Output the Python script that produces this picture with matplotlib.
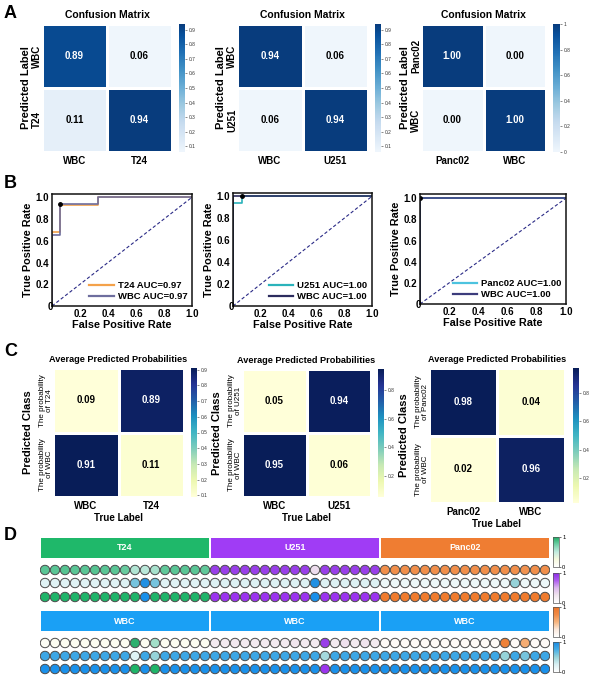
import numpy as np
import matplotlib
matplotlib.use('Agg')
import matplotlib.pyplot as plt
from matplotlib.colors import LinearSegmentedColormap, Normalize
from matplotlib.patches import Rectangle
from matplotlib.cm import ScalarMappable

plt.rcParams['font.family'] = ['Liberation Sans', 'DejaVu Sans']

# ---------------- DATA ----------------
# Panel A: confusion matrices (rows = predicted, cols = true)
cm_t24 = [[0.89, 0.06], [0.11, 0.94]]
cm_u251 = [[0.94, 0.06], [0.06, 0.94]]
cm_panc02 = [[1.00, 0.00], [0.00, 1.00]]
labels_t24 = ['WBC', 'T24']
labels_u251 = ['WBC', 'U251']
labels_panc02 = ['Panc02', 'WBC']
cbar_ticks_a12 = [0.1, 0.2, 0.3, 0.4, 0.5, 0.6, 0.7, 0.8, 0.9]
cbar_ticks_a3 = [0, 0.2, 0.4, 0.6, 0.8, 1.0]

# Panel B: ROC curves
roc_t24_fpr = [0, 0, 0.06, 0.06, 0.33, 0.33, 1.0]
roc_t24_tpr = [0, 0.68, 0.68, 0.93, 0.93, 1.0, 1.0]
roc_wbc1_fpr = [0, 0, 0.06, 0.06, 0.33, 0.33, 1.0]
roc_wbc1_tpr = [0, 0.65, 0.65, 0.94, 0.94, 1.0, 1.0]
roc_point1 = (0.06, 0.94)
roc_u251_fpr = [0, 0, 0.065, 0.065, 1.0]
roc_u251_tpr = [0, 0.94, 0.94, 1.0, 1.0]
roc_wbc2_fpr = [0, 0, 1.0]
roc_wbc2_tpr = [0, 1.0, 1.0]
roc_point2 = (0.065, 1.0)
roc_panc02_fpr = [0, 0, 1.0]
roc_panc02_tpr = [0, 1.0, 1.0]
roc_wbc3_fpr = [0, 0, 1.0]
roc_wbc3_tpr = [0, 1.0, 1.0]
roc_point3 = (0.0, 1.0)
auc_t24, auc_wbc1 = 0.97, 0.97
auc_u251, auc_wbc2 = 1.00, 1.00
auc_panc02, auc_wbc3 = 1.00, 1.00

# Panel C: average predicted probabilities (rows = predicted class, cols = true label)
prob_t24 = [[0.09, 0.89], [0.91, 0.11]]
prob_u251 = [[0.05, 0.94], [0.95, 0.06]]
prob_panc02 = [[0.98, 0.04], [0.02, 0.96]]
ylabels_t24 = ['The probability\nof T24', 'The probability\nof WBC']
ylabels_u251 = ['The probability\nof U251', 'The probability\nof WBC']
ylabels_panc02 = ['The probability\nof Panc02', 'The probability\nof WBC']
cbar_ticks_c1 = [0.1, 0.2, 0.3, 0.4, 0.5, 0.6, 0.7, 0.8, 0.9]
cbar_ticks_c2 = [0.2, 0.4, 0.6, 0.8]
cbar_ticks_c3 = [0.2, 0.4, 0.6, 0.8]

# Panel D: per-sample probabilities (17 samples per group)
groups_d = ['T24', 'U251', 'Panc02']
t24_top_p_cancer = [0.82, 0.82, 0.83, 0.82, 0.82, 0.83, 0.82, 0.82, 0.78, 0.55, 0.52, 0.58, 0.8, 0.82, 0.82, 0.82, 0.8]
t24_top_p_wbc = [0.2, 0.2, 0.2, 0.2, 0.2, 0.2, 0.2, 0.2, 0.22, 0.6, 0.95, 0.6, 0.2, 0.2, 0.2, 0.2, 0.2]
t24_top_pred = [1, 1, 1, 1, 1, 1, 1, 1, 1, 1, 0, 1, 1, 1, 1, 1, 1]
t24_bot_p_cancer = [0.08, 0.1, 0.1, 0.1, 0.1, 0.1, 0.1, 0.1, 0.1, 0.95, 0.1, 0.6, 0.1, 0.1, 0.1, 0.1, 0.1]
t24_bot_p_wbc = [0.8, 0.8, 0.8, 0.8, 0.8, 0.8, 0.8, 0.8, 0.8, 0.2, 0.8, 0.5, 0.8, 0.8, 0.8, 0.8, 0.8]
t24_bot_pred = [0, 0, 0, 0, 0, 0, 0, 0, 0, 1, 0, 1, 0, 0, 0, 0, 0]
u251_top_p_cancer = [0.9, 0.9, 0.9, 0.9, 0.9, 0.9, 0.9, 0.9, 0.9, 0.9, 0.3, 0.9, 0.9, 0.9, 0.9, 0.9, 0.9]
u251_top_p_wbc = [0.22, 0.22, 0.22, 0.22, 0.22, 0.22, 0.22, 0.22, 0.22, 0.22, 0.95, 0.22, 0.22, 0.22, 0.22, 0.22, 0.22]
u251_top_pred = [1, 1, 1, 1, 1, 1, 1, 1, 1, 1, 0, 1, 1, 1, 1, 1, 1]
u251_bot_p_cancer = [0.2, 0.2, 0.22, 0.2, 0.2, 0.2, 0.2, 0.2, 0.25, 0.2, 0.2, 0.9, 0.2, 0.28, 0.2, 0.26, 0.2]
u251_bot_p_wbc = [0.8, 0.8, 0.8, 0.8, 0.8, 0.8, 0.8, 0.8, 0.8, 0.8, 0.8, 0.45, 0.8, 0.8, 0.8, 0.8, 0.8]
u251_bot_pred = [0, 0, 0, 0, 0, 0, 0, 0, 0, 0, 0, 1, 0, 0, 0, 0, 0]
panc02_top_p_cancer = [0.72, 0.72, 0.72, 0.72, 0.72, 0.72, 0.72, 0.72, 0.72, 0.72, 0.72, 0.72, 0.72, 0.72, 0.7, 0.72, 0.72]
panc02_top_p_wbc = [0.12, 0.12, 0.12, 0.12, 0.12, 0.12, 0.12, 0.12, 0.12, 0.12, 0.12, 0.12, 0.12, 0.5, 0.12, 0.12, 0.12]
panc02_top_pred = [1, 1, 1, 1, 1, 1, 1, 1, 1, 1, 1, 1, 1, 1, 1, 1, 1]
panc02_bot_p_cancer = [0.06, 0.06, 0.06, 0.06, 0.06, 0.06, 0.06, 0.06, 0.06, 0.06, 0.06, 0.06, 0.85, 0.06, 0.55, 0.06, 0.06]
panc02_bot_p_wbc = [0.8, 0.8, 0.8, 0.8, 0.8, 0.8, 0.8, 0.8, 0.8, 0.8, 0.8, 0.8, 0.5, 0.8, 0.6, 0.8, 0.8]
panc02_bot_pred = [0, 0, 0, 0, 0, 0, 0, 0, 0, 0, 0, 0, 0, 0, 0, 0, 0]

# ---------------- FIGURE ----------------
W, H = 591, 676
fig = plt.figure(figsize=(W / 100, H / 100), dpi=100)


def px_rect(x0, y0, x1, y1):
    return [x0 / W, 1 - y1 / H, (x1 - x0) / W, (y1 - y0) / H]


blues = LinearSegmentedColormap.from_list('bl', plt.cm.Blues(np.linspace(0.04, 0.95, 256)))
ylgnbu = plt.cm.YlGnBu


def heat(box, cbox, vals, xlabels, ylabels, cmap, cticks, title, title_fs, ylab, ylab_x,
         ytick_fs, ytick_bold, ytick_pad, xlab=None, ann_fs=7, ylab_fs=8):
    ax = fig.add_axes(px_rect(*box))
    cax = fig.add_axes(px_rect(*cbox))
    v = np.asarray(vals, dtype=float)
    vmin, vmax = v.min(), v.max()
    im = ax.pcolormesh(v, cmap=cmap, vmin=vmin, vmax=vmax, edgecolors='white', linewidth=0.9)
    ax.set_xlim(0, 2)
    ax.set_ylim(2, 0)
    mid = (vmin + vmax) / 2
    for i in range(2):
        for j in range(2):
            ax.text(j + 0.5, i + 0.5, f'{v[i, j]:.2f}', ha='center', va='center',
                    color='white' if v[i, j] > mid else 'black', fontsize=ann_fs, fontweight='bold')
    ax.set_xticks([0.5, 1.5])
    ax.set_xticklabels(xlabels, fontsize=7, fontweight='bold')
    ax.set_yticks([0.5, 1.5])
    ax.set_yticklabels(ylabels, rotation=90, va='center', ha='right', multialignment='center',
                       fontsize=ytick_fs, fontweight='bold' if ytick_bold else 'normal', linespacing=1.05)
    ax.tick_params(length=0, pad=3)
    ax.tick_params(axis='y', pad=ytick_pad)
    for s in ax.spines.values():
        s.set_visible(False)
    ax.set_title(title, fontsize=title_fs, fontweight='bold', pad=4)
    ax.set_ylabel(ylab, fontsize=ylab_fs, fontweight='bold')
    ax.yaxis.set_label_coords(ylab_x, 0.5)
    if xlab:
        ax.set_xlabel(xlab, fontsize=7, fontweight='bold', labelpad=1)
    cb = fig.colorbar(im, cax=cax, ticks=cticks, format='%g')
    cb.outline.set_visible(False)
    cax.tick_params(labelsize=3.5, length=1.2, width=0.4, pad=1.5, colors='#333333')
    return ax


# Panel A
heat((42, 24, 172, 152), (179, 24, 185, 152), cm_t24, labels_t24, labels_t24, blues, cbar_ticks_a12,
     'Confusion Matrix', 7.5, 'Predicted Label', -0.085, 7, True, 0)
heat((237, 24, 368, 152), (375, 24, 381, 152), cm_u251, labels_u251, labels_u251, blues, cbar_ticks_a12,
     'Confusion Matrix', 7.5, 'Predicted Label', -0.084, 7, True, 0)
heat((421, 24, 546, 152), (553, 24, 560, 152), cm_panc02, labels_panc02, labels_panc02, blues, cbar_ticks_a3,
     'Confusion Matrix', 7.5, 'Predicted Label', -0.088, 7, True, 0)

# Panel B


def roc(box, ylim_top, c1, c2, fpr1, tpr1, fpr2, tpr2, pt, name1, auc1, name2, auc2):
    ax = fig.add_axes(px_rect(*box))
    ax.plot([0, 1], [0, 1], color='#2a2a86', lw=0.8, ls=(0, (3, 2)))
    ax.plot(fpr1, tpr1, color=c1, lw=1.2, label=f'{name1} AUC={auc1:.2f}')
    ax.plot(fpr2, tpr2, color=c2, lw=1.2, label=f'{name2} AUC={auc2:.2f}')
    ax.plot([pt[0]], [pt[1]], 'o', color='black', ms=2.5)
    ax.set_xlim(0, 1)
    ax.set_ylim(0, ylim_top)
    ax.set_xticks([0.2, 0.4, 0.6, 0.8, 1.0])
    ax.set_xticklabels(['0.2', '0.4', '0.6', '0.8', '1.0'])
    ax.set_yticks([0.2, 0.4, 0.6, 0.8, 1.0])
    ax.set_yticklabels(['0.2', '0.4', '0.6', '0.8', '1.0'])
    ax.tick_params(length=0, pad=2, labelsize=7)
    for lab in ax.get_xticklabels() + ax.get_yticklabels():
        lab.set_fontweight('bold')
    ax.text(-0.01, -0.01, '0', transform=ax.transAxes, ha='center', va='center', fontsize=7, fontweight='bold')
    for s in ax.spines.values():
        s.set_linewidth(1.1)
        s.set_color('#111111')
    ax.set_xlabel('False Positive Rate', fontsize=7.8, fontweight='bold', labelpad=1)
    ax.set_ylabel('True Positive Rate', fontsize=7.8, fontweight='bold', labelpad=2)
    leg = ax.legend(loc='lower right', frameon=False, handlelength=2.6,
                    handletextpad=0.4, borderaxespad=0.1, labelspacing=0.2,
                    prop={'weight': 'bold', 'size': 6.8})
    for line in leg.get_lines():
        line.set_linewidth(1.6)
    return ax


roc((52, 194, 192, 306), 1.03, '#f4a24a', '#6e6e9e', roc_t24_fpr, roc_t24_tpr, roc_wbc1_fpr, roc_wbc1_tpr,
    roc_point1, 'T24', auc_t24, 'WBC', auc_wbc1)
roc((233, 193, 372, 306), 1.03, '#2bb3bb', '#2c2c5e', roc_u251_fpr, roc_u251_tpr, roc_wbc2_fpr, roc_wbc2_tpr,
    roc_point2, 'U251', auc_u251, 'WBC', auc_wbc2)
roc((420, 194, 566, 304), 1.04, '#4cc3df', '#3c3c7c', roc_panc02_fpr, roc_panc02_tpr, roc_wbc3_fpr, roc_wbc3_tpr,
    roc_point3, 'Panc02', auc_panc02, 'WBC', auc_wbc3)

# Panel C
heat((53, 368, 184, 497), (191, 368, 197, 497), prob_t24, labels_t24, ylabels_t24, ylgnbu, cbar_ticks_c1,
     'Average Predicted Probabilities', 6.6, 'Predicted Class', -0.15, 5.8, False, 0, xlab='True Label')
heat((242, 369, 371, 497), (378, 369, 384, 497), prob_u251, labels_u251, ylabels_u251, ylgnbu, cbar_ticks_c2,
     'Average Predicted Probabilities', 6.6, 'Predicted Class', -0.152, 5.8, False, 0, xlab='True Label')
heat((429, 368, 565, 503), (573, 368, 579, 503), prob_panc02, labels_panc02, ylabels_panc02, ylgnbu, cbar_ticks_c3,
     'Average Predicted Probabilities', 6.6, 'Predicted Class', -0.145, 5.8, False, 0, xlab='True Label')

# Panel D
axd = fig.add_axes(px_rect(40, 530, 550, 676))
axd.set_xlim(-0.5, 50.5)
axd.set_ylim(676, 530)
axd.axis('off')

cm_green = LinearSegmentedColormap.from_list('g', ['#ffffff', '#f7f9de', '#c2eadf', '#72cfa8', '#1daa62'])
cm_purple = LinearSegmentedColormap.from_list('p', ['#ffffff', '#f1e6ee', '#dcb8ec', '#ae5cee', '#8c2ce6'])
cm_orange = LinearSegmentedColormap.from_list('o', ['#ffffff', '#fbe9dc', '#f6b47e', '#f08a45', '#ec7428'])
cm_blue = LinearSegmentedColormap.from_list('b', ['#ffffff', '#d8f0f3', '#97d3d9', '#45ade6', '#1a8be2'])
cancer_cmaps = [cm_green, cm_purple, cm_orange]
cancer_colors = ['#1fb469', '#9b35ee', '#ef7b2e']
bar_colors = ['#1fb86a', '#a03cf5', '#ef7d32']
wbc_color = '#1a90ea'
wbc_bar = '#1aa0f5'

top_data = [(t24_top_p_cancer, t24_top_p_wbc, t24_top_pred),
            (u251_top_p_cancer, u251_top_p_wbc, u251_top_pred),
            (panc02_top_p_cancer, panc02_top_p_wbc, panc02_top_pred)]
bot_data = [(t24_bot_p_cancer, t24_bot_p_wbc, t24_bot_pred),
            (u251_bot_p_cancer, u251_bot_p_wbc, u251_bot_pred),
            (panc02_bot_p_cancer, panc02_bot_p_wbc, panc02_bot_pred)]

n = 17
circ_kw = dict(s=46, edgecolors='#4a4a4a', linewidths=0.7, zorder=3)
for g, name in enumerate(groups_d):
    xs = np.arange(n) + g * n
    for (y0, y1, col, lab) in [(538, 558, bar_colors[g], name), (611, 631, wbc_bar, 'WBC')]:
        axd.add_patch(Rectangle((g * n - 0.42, y0), n - 0.16, y1 - y0, color=col, lw=0))
        axd.text(g * n + (n - 1) / 2, (y0 + y1) / 2, lab, ha='center', va='center',
                 color='white', fontsize=6.5, fontweight='bold')
    for rows, (ya, yb, yc) in [(top_data[g], (570, 583, 597)), (bot_data[g], (643, 656, 669))]:
        pc, pw, pr = rows
        axd.scatter(xs, [ya] * n, c=pc, cmap=cancer_cmaps[g], vmin=0, vmax=1, **circ_kw)
        axd.scatter(xs, [yb] * n, c=pw, cmap=cm_blue, vmin=0, vmax=1, **circ_kw)
        axd.scatter(xs, [yc] * n, c=[cancer_colors[g] if p == 1 else wbc_color for p in pr], **circ_kw)

# Panel D colorbars
for cmap, (y0, y1) in zip([cm_green, cm_purple, cm_orange, cm_blue],
                          [(537, 567), (573, 603), (607, 637), (642, 672)]):
    cax = fig.add_axes(px_rect(553, y0, 559, y1))
    cb = fig.colorbar(ScalarMappable(norm=Normalize(0, 1), cmap=cmap), cax=cax, ticks=[0, 1], format='%g')
    cb.outline.set_linewidth(0.5)
    cb.outline.set_edgecolor('#555555')
    cax.tick_params(labelsize=4.2, length=1.2, width=0.4, pad=1)

# panel letters
for letter, y in [('A', 14), ('B', 183), ('C', 352), ('D', 536)]:
    fig.text(4 / W, 1 - y / H, letter, fontsize=13, fontweight='bold', ha='left', va='center')

fig.savefig('out.png', dpi=100)
